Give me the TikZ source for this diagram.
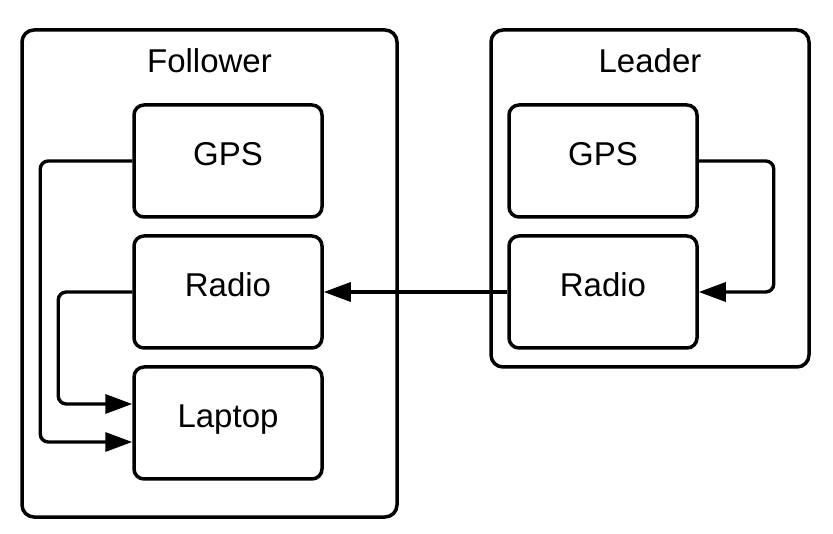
\documentclass[tikz,border=0pt]{standalone}
\usepackage{fontspec}
\setmainfont{Liberation Sans}
\usetikzlibrary{arrows.meta}
\begin{document}
\begin{tikzpicture}[x=1pt,y=-1pt,
  box/.style={draw, line width=3.5pt, rounded corners=10pt, minimum width=188pt, minimum height=112pt, inner sep=0pt, font=\fontsize{33}{39}\selectfont, text height=22pt, text depth=12pt},
  group/.style={draw, line width=3.5pt, rounded corners=12pt, inner sep=0pt},
  grouptitle/.style={font=\fontsize{33}{39}\selectfont, anchor=base, inner sep=0pt},
  conn/.style={line width=3.4pt, rounded corners=8pt, -{Triangle[length=27pt,width=19pt]}}]
\useasboundingbox (0,0) rectangle (833,534);
% containers
\node[group, minimum width=375pt, minimum height=487pt] (follower) at (209.5,273.5) {};
\node[group, minimum width=318pt, minimum height=337pt] (leader) at (650,198.5) {};
\node[grouptitle] (ftitle) at (209.5,73) {Follower};
\node[grouptitle] (ltitle) at (650,73) {Leader};
% follower boxes
\node[box] (fgps) at (228,161) {GPS};
\node[box] (frad) at (228,292) {Radio};
\node[box] (flap) at (228,423) {Laptop};
% leader boxes
\node[box] (lgps) at (603,161) {GPS};
\node[box] (lrad) at (603,292) {Radio};
% connectors
\draw[conn] (fgps.west) -- ++(-92,0) |- ([yshift=-19pt]flap.west);
\draw[conn] (frad.west) -- ++(-74,0) |- ([yshift=19pt]flap.west);
\draw[conn] (lgps.east) -- ++(75,0) |- (lrad.east);
\draw[conn] (lrad.west) -- (frad.east);
\end{tikzpicture}
\end{document}
